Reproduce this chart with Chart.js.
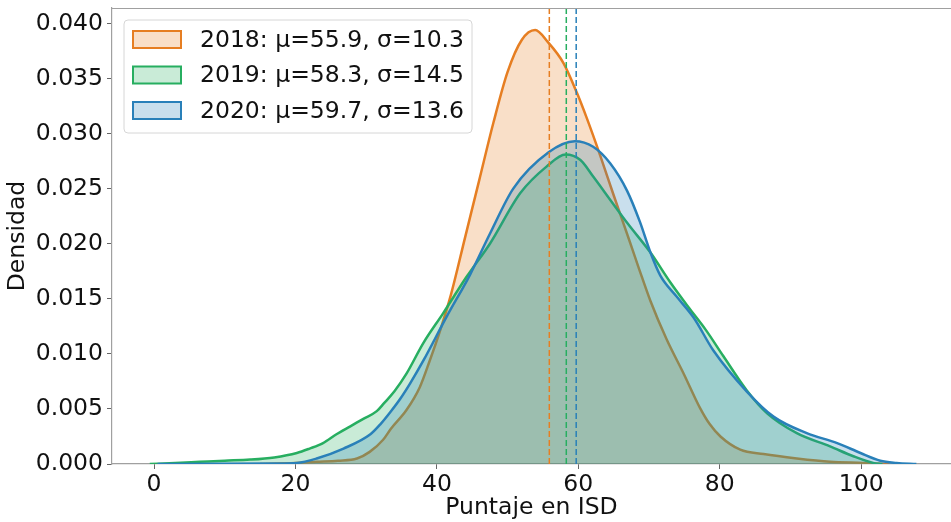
<!DOCTYPE html>
<html>
<head>
<meta charset="utf-8">
<script src="https://cdn.jsdelivr.net/npm/chart.js@4.4.1/dist/chart.umd.min.js"></script>
<style>
  html, body { margin: 0; padding: 0; background: #fff; }
  canvas { display: block; }
</style>
</head>
<body>
<canvas id="grafico" width="951" height="522"></canvas>
<script>
// Datos (curvas de densidad por anio)
const anios = ['2018', '2019', '2020'];
const medias = [55.9, 58.3, 59.7];
const desviaciones = [10.3, 14.5, 13.6];

const x2018 = [15, 20, 23, 26, 28.7, 30.5, 32.4, 33.5, 35.7, 37.6, 39.0, 40.4, 42.0, 44.0, 46.0, 48.0, 50.0, 52.0, 53.9,
  55.7, 57.9, 59.8, 61.2, 63.1, 65.0, 67.0, 68.6, 70.2, 72.5, 74.9, 77.2, 78.6, 80.1, 82.9, 86.2, 90.9, 95.6, 100.3, 104];
const y2018 = [0, 0.0001, 0.0002, 0.0003, 0.0005, 0.0011, 0.0022, 0.0032, 0.0049, 0.0070, 0.0094, 0.0120, 0.0154, 0.0206, 0.0258, 0.0310, 0.0356, 0.0385, 0.0394,
  0.0383, 0.0364, 0.0337, 0.0314, 0.0280, 0.0244, 0.0207, 0.0177, 0.0148, 0.0113, 0.0082, 0.0051, 0.0036, 0.0025, 0.0013, 0.0009, 0.0005, 0.0002, 0.0001, 0];

const x2019 = [-0.6, 3, 6.5, 10, 13.6, 17, 20.2, 22, 23.9, 25.8, 27.7, 29.6, 31.5, 32.5, 34.0, 35.7, 38.1, 40.9, 44.2, 47.5,
  51.8, 55.5, 58.2, 60.3, 62.1, 64.5, 66.9, 70.2, 73.0, 75.5, 78.0, 80.5, 83.8, 86.7, 90.9, 95.6, 98.9, 101.7, 103];
const y2019 = [0, 0.0001, 0.0002, 0.0003, 0.0004, 0.0006, 0.0010, 0.0014, 0.0019, 0.0027, 0.0034, 0.0041, 0.0048, 0.0055, 0.0066, 0.0082, 0.0110, 0.0137, 0.0170, 0.0200,
  0.0246, 0.0270, 0.0281, 0.0276, 0.0261, 0.0240, 0.0219, 0.0192, 0.0165, 0.0143, 0.0122, 0.0098, 0.0067, 0.0046, 0.0028, 0.0016, 0.0007, 0.0001, 0];

const x2020 = [0.5, 10, 17, 20.2, 23, 26.8, 30.6, 32.0, 33.4, 34.8, 36.2, 38.1, 41.4, 44.7, 47.5, 50.8, 55.8, 59.5, 62.1, 64.5,
  66.9, 68.7, 70.2, 71.6, 73.9, 76.3, 79.1, 83.8, 87.6, 92.3, 96.6, 99.9, 102.7, 105, 107.8];
const y2020 = [0, 0.00002, 0.00005, 0.0001, 0.0005, 0.0014, 0.0027, 0.0036, 0.0047, 0.0059, 0.0073, 0.0094, 0.0134, 0.0172, 0.0209, 0.0250, 0.0283, 0.0293, 0.0288, 0.0273,
  0.0248, 0.0220, 0.0192, 0.0171, 0.0152, 0.0133, 0.0103, 0.0066, 0.0043, 0.0028, 0.0019, 0.0010, 0.0003, 0.0001, 0];

const ticksX = [0, 20, 40, 60, 80, 100];
const ticksY = [0, 0.005, 0.010, 0.015, 0.020, 0.025, 0.030, 0.035, 0.040];

const X_MIN = -5.94, X_MAX = 112.7;
const Y_MAX = 0.0414;

const colores = ['#e67e22', '#27ae60', '#2980b9'];
const rellenos = ['rgba(230,126,34,0.25)', 'rgba(39,174,96,0.25)', 'rgba(41,128,185,0.25)'];
const fuente = 'DejaVu Sans';
const tam = 23.5;

const seriesX = [x2018, x2019, x2020];
const seriesY = [y2018, y2019, y2020];

// curvas con relleno (2018 abajo, 2020 arriba)
const curvas = anios.map((anio, i) => ({
  label: anio,
  data: seriesX[i].map((x, k) => ({ x: x, y: seriesY[i][k] })),
  borderColor: colores[i],
  backgroundColor: rellenos[i],
  borderWidth: 2.5,
  fill: 'origin',
  pointRadius: 0,
  cubicInterpolationMode: 'monotone',
  order: 10 - i
}));

// lineas verticales de las medias
const lineasMedia = medias.map((m, i) => ({
  label: 'media ' + anios[i],
  data: [{ x: m, y: 0 }, { x: m, y: Y_MAX }],
  borderColor: colores[i],
  borderWidth: 1.5,
  borderDash: [6, 3],
  fill: false,
  pointRadius: 0,
  order: 1
}));

// Leyenda dentro del area del grafico
const leyendaInterna = {
  id: 'leyendaInterna',
  afterDraw(chart) {
    const { ctx, chartArea } = chart;
    const x0 = chartArea.left + 12, y0 = chartArea.top + 12;
    ctx.save();
    ctx.beginPath();
    ctx.roundRect(x0, y0, 348, 113, 4);
    ctx.fillStyle = 'rgba(255,255,255,0.8)';
    ctx.fill();
    ctx.strokeStyle = '#d6d6d6';
    ctx.lineWidth = 1;
    ctx.stroke();
    ctx.font = tam + 'px "' + fuente + '"';
    ctx.textBaseline = 'middle';
    anios.forEach((anio, i) => {
      const cy = y0 + 19.5 + i * 35.5;
      ctx.fillStyle = rellenos[i];
      ctx.fillRect(x0 + 9, cy - 8.5, 48, 17);
      ctx.strokeStyle = colores[i];
      ctx.lineWidth = 2;
      ctx.strokeRect(x0 + 9, cy - 8.5, 48, 17);
      ctx.fillStyle = '#111';
      const txt = anio + ': \u03bc=' + medias[i].toFixed(1) + ', \u03c3=' + desviaciones[i].toFixed(1);
      ctx.fillText(txt, x0 + 76, cy + 1);
    });
    ctx.restore();
  }
};

// borde superior del marco
const marco = {
  id: 'marco',
  afterDraw(chart) {
    const { ctx, chartArea } = chart;
    ctx.save();
    ctx.strokeStyle = '#a0a0a0';
    ctx.lineWidth = 1.2;
    ctx.beginPath();
    ctx.moveTo(chartArea.left, chartArea.top + 0.5);
    ctx.lineTo(chartArea.right, chartArea.top + 0.5);
    ctx.stroke();
    ctx.restore();
  }
};

new Chart(document.getElementById('grafico'), {
  type: 'line',
  data: { datasets: curvas.concat(lineasMedia) },
  options: {
    responsive: false,
    animation: false,
    devicePixelRatio: 1,
    layout: { padding: { left: 0, right: 0, top: 8, bottom: 0 } },
    plugins: {
      legend: { display: false },
      tooltip: { enabled: false }
    },
    scales: {
      x: {
        type: 'linear',
        min: X_MIN,
        max: X_MAX,
        afterFit: (s) => { s.height = 58; s.paddingLeft = 0; s.paddingRight = 0; },
        afterBuildTicks: (s) => { s.ticks = ticksX.map(v => ({ value: v })); },
        ticks: {
          font: { family: fuente, size: tam },
          color: '#111',
          padding: 2,
          maxRotation: 0,
          callback: (v) => String(v)
        },
        grid: { display: true, drawOnChartArea: false, drawTicks: true, tickLength: 5, color: '#666' },
        border: { display: true, color: '#a0a0a0', width: 1.2 },
        title: {
          display: true,
          text: 'Puntaje en ISD',
          font: { family: fuente, size: tam },
          color: '#111',
          padding: { top: 0, bottom: 0 }
        }
      },
      y: {
        type: 'linear',
        min: 0,
        max: Y_MAX,
        afterFit: (s) => { s.width = 112; s.paddingTop = 0; s.paddingBottom = 0; },
        afterBuildTicks: (s) => { s.ticks = ticksY.map(v => ({ value: v })); },
        ticks: {
          font: { family: fuente, size: tam },
          color: '#111',
          padding: 4,
          callback: (v) => Number(v).toFixed(3)
        },
        grid: { display: true, drawOnChartArea: false, drawTicks: true, tickLength: 5, color: '#666' },
        border: { display: true, color: '#a0a0a0', width: 1.2 },
        title: {
          display: true,
          text: 'Densidad',
          font: { family: fuente, size: tam },
          color: '#111',
          padding: { top: 4, bottom: 4 }
        }
      }
    }
  },
  plugins: [leyendaInterna, marco]
});
</script>
</body>
</html>
